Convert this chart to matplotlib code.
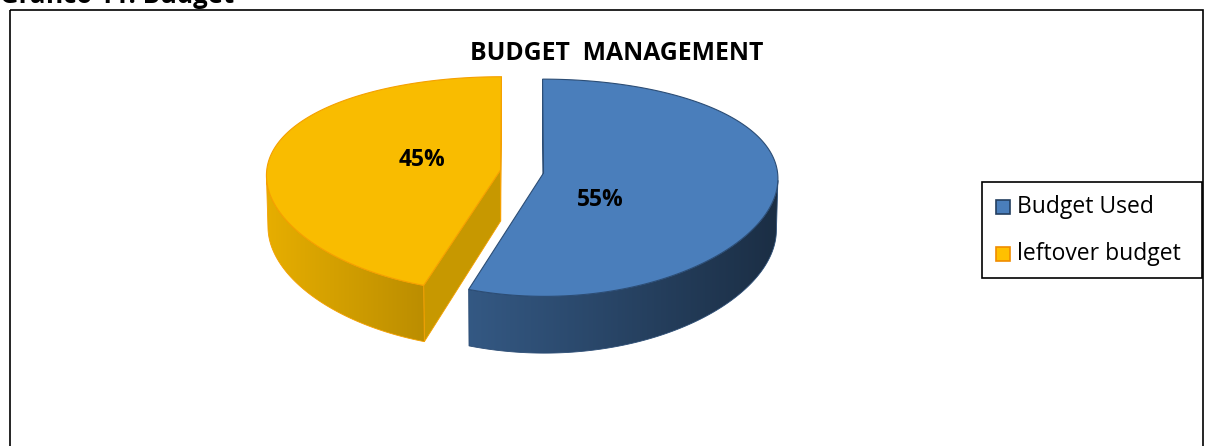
import numpy as np
import matplotlib
matplotlib.use('Agg')
import matplotlib.pyplot as plt
from matplotlib.patches import Polygon, Rectangle
from matplotlib.colors import to_rgb

# ---------------- data ----------------
chart_title = 'BUDGET  MANAGEMENT'
caption = 'Gráfico 11: Budget'
categories = ['Budget Used', 'leftover budget']
values = [55, 45]
pct_labels = ['55%', '45%']

# ---------------- style ----------------
top_colors = ['#4A7EBB', '#F9BC00']
edge_colors = ['#2C4D75', '#F5A000']
cut_colors = ['#1F3A5E', '#C79800']
legend_face = ['#4A7EBB', '#FFC000']
legend_edge = ['#243F60', '#F08C00']
label_pos = [(0.34, -45.0), (0.35, 165.0)]   # (radius, angle) inside each slice

FONT = 'Open Sans'
W, H = 1206, 446
fig = plt.figure(figsize=(W / 100, H / 100), dpi=100)
ax = fig.add_axes([0, 0, 1, 1])
ax.set_xlim(0, W)
ax.set_ylim(H, 0)
ax.axis('off')

# ---------------- 3-D projection ----------------
CX, CY = 522.0, 171.5
F, D = 1544.0, 6.6
PX = 0.35           # strength of perspective along x
ELEV = np.deg2rad(27.0)
THICK = 0.25
EXPLODE = 0.093
ce, se = np.cos(ELEV), np.sin(ELEV)
CAM = np.array([0.0, -D * ce, D * se])


def proj(X, Y, Z):
    X = np.asarray(X, float); Y = np.asarray(Y, float); Z = np.asarray(Z, float)
    depth = D + Y * ce - Z * se
    return CX + (F / D) * X * (D / depth) ** PX, CY - F * (Y * se + Z * ce) / depth


def shade(c, m):
    r, g, b = to_rgb(c)
    return np.array([min(r * m, 1), min(g * m, 1), min(b * m, 1)])


total = float(sum(values))
angles = []
start = 90.0
for v in values:
    sweep = 360.0 * v / total
    angles.append((start, start - sweep))
    start -= sweep

# horizontal range of the whole (exploded) pie, used for the side shading
tt = np.deg2rad(np.linspace(0, 360, 361))
xs_all, _ = proj(np.cos(tt), np.sin(tt), 0 * tt)
G0 = xs_all.min() - EXPLODE * F / D - 4
G1 = xs_all.max() + EXPLODE * F / D + 4
IMX0, IMX1 = 150.0, 900.0
YMIN, YMAX = 40.0, 400.0
xgrid = np.linspace(IMX0, IMX1, 600)
fgrid = np.clip((xgrid - G0) / (G1 - G0), 0, 1)

for i in [1, 0]:
    a0, a1 = angles[i]
    mid = np.deg2rad((a0 + a1) / 2)
    ox, oy = EXPLODE * np.cos(mid), EXPLODE * np.sin(mid)
    t = np.deg2rad(np.linspace(a0, a1, 600))
    rx, ry = ox + np.cos(t), oy + np.sin(t)
    tx, ty = proj(rx, ry, 0 * t)
    bx, by = proj(rx, ry, 0 * t - THICK)
    cxt, cyt = proj(ox, oy, 0.0)
    cxb, cyb = proj(ox, oy, -THICK)

    # cut faces
    for ang, sgn in [(np.deg2rad(a0), 1), (np.deg2rad(a1), -1)]:
        n = np.array([-np.sin(ang), np.cos(ang), 0.0]) * sgn
        P = np.array([ox, oy, 0.0])
        if np.dot(n, CAM - P) > 0:
            ex, ey = ox + np.cos(ang), oy + np.sin(ang)
            p1 = proj(ex, ey, 0.0); p2 = proj(ex, ey, -THICK)
            poly = [(float(cxt), float(cyt)), (float(p1[0]), float(p1[1])),
                    (float(p2[0]), float(p2[1])), (float(cxb), float(cyb))]
            ax.add_patch(Polygon(poly, closed=True, fc=cut_colors[i],
                                 ec=edge_colors[i], lw=0.6, zorder=2))

    # outer wall (visible where it faces the viewer on screen)
    dx = np.diff(tx); dy = np.diff(ty)
    cross = dx * (by[:-1] - ty[:-1]) - dy * (bx[:-1] - tx[:-1])
    segvis = cross < 0
    pv = np.zeros(len(t), bool)
    pv[:-1] |= segvis
    pv[1:] |= segvis
    idx = np.where(pv)[0]
    if len(idx) > 1:
        wall = np.column_stack([np.r_[tx[idx], bx[idx][::-1]],
                                np.r_[ty[idx], by[idx][::-1]]])
        wp = Polygon(wall, closed=True, fc='none', ec=edge_colors[i], lw=0.6, zorder=3.5)
        ax.add_patch(wp)
        grad = np.array([shade(top_colors[i], 0.93 - 0.57 * f) for f in fgrid])
        img = np.repeat(grad[None, :, :], 2, axis=0)
        im = ax.imshow(img, extent=(IMX0, IMX1, YMAX, YMIN), aspect='auto',
                       interpolation='bilinear', zorder=3)
        im.set_clip_path(wp)

    # top face
    poly = np.column_stack([np.r_[cxt, tx], np.r_[cyt, ty]])
    ax.add_patch(Polygon(poly, closed=True, fc=top_colors[i],
                         ec=edge_colors[i], lw=0.8, zorder=4))

    # data label
    lr, la = label_pos[i]
    lx, ly = proj(ox + lr * np.cos(np.deg2rad(la)), oy + lr * np.sin(np.deg2rad(la)), 0.0)
    ax.text(float(lx), float(ly), pct_labels[i], fontsize=16.5, fontweight='bold',
            family=FONT, ha='center', va='center', color='black', zorder=6)

ax.set_xlim(0, W)
ax.set_ylim(H, 0)

# title and caption
ax.text(617, 54, chart_title, fontsize=17.8, fontweight='bold', family=FONT,
        ha='center', va='center', color='black')
ax.text(0, 2.8, caption, fontsize=18.5, fontweight='bold', family=FONT,
        ha='left', va='baseline', color='black')

# outer frame
ax.add_patch(Rectangle((10, 10), 1193, 460, fill=False, ec='black', lw=1.2, zorder=1))

# legend
ax.add_patch(Rectangle((982, 182), 220, 96, fill=False, ec='black', lw=1.2, zorder=5))
for j, name in enumerate(categories):
    yc = 207 + 47 * j
    ax.add_patch(Rectangle((996, yc - 7), 14, 14, fc=legend_face[j],
                           ec=legend_edge[j], lw=1.2, zorder=6))
    ax.text(1017, yc, name, fontsize=16.5, family=FONT, ha='left',
            va='center', color='black', zorder=6)

fig.savefig('out.png', dpi=100)
